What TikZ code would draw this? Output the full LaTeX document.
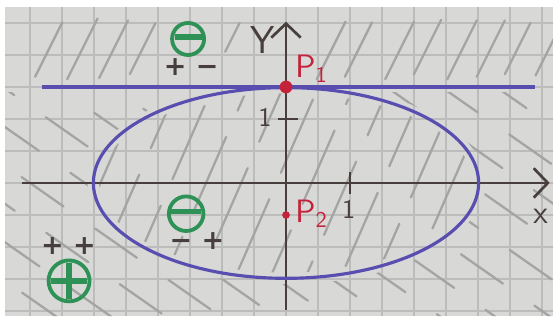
\documentclass[tikz,border=0pt]{standalone}
\usepackage{fontspec}
\usetikzlibrary{arrows.meta}
\newfontfamily\signfont{DejaVu Sans}

\definecolor{paper}{RGB}{216,216,215}
\definecolor{gridgray}{RGB}{188,188,188}
\definecolor{pencil}{RGB}{164,164,162}
\definecolor{inkblue}{RGB}{88,78,176}
\definecolor{inkdark}{RGB}{72,62,62}
\definecolor{inkred}{RGB}{196,34,58}
\definecolor{inkgreen}{RGB}{46,146,86}

\begin{document}
\begin{tikzpicture}[
  font=\sffamily,
  gridline/.style={gridgray, line width=0.6pt},
  hatch/.style={pencil, line width=1pt, line cap=round},
  axis/.style={inkdark, line width=1.2pt, -{Straight Barb[length=2.2mm,width=4.6mm,line width=1.2pt]}},
  curve/.style={inkblue, line width=1.4pt},
  dot/.style={circle, fill=inkred, inner sep=0pt, minimum size=#1},
  ptlabel/.style={inkred, font=\sffamily\Large},
  axlabel/.style={inkdark, font=\sffamily\Large},
  signcirc/.style={circle, draw=inkgreen, line width=1.7pt, inner sep=0pt, minimum size=#1},
  signbar/.style={inkgreen, line width=2.6pt},
  signs/.style={inkdark, font=\signfont\bfseries\large}
]
  \useasboundingbox (-4.469,-2.156) rectangle (4.172,2.859);
  % sheet of squared paper
  \fill[white] (-4.469,-2.156) rectangle (4.172,2.859);
  \fill[paper] (-4.39,-2.08) rectangle (4.172,2.75);
  \draw[gridline] (-4.39,-2.08) grid[step=0.5] (4.172,2.75);

  % hatching above the tangent
  \foreach \x/\y/\l in {-3.92/1.66/0.85, -3.42/1.62/0.95, -2.92/1.64/0.9, -2.44/1.7/0.8,
                        -0.95/2.05/0.45, 0.48/1.62/0.9, 0.92/1.66/0.85, 1.55/1.62/0.9,
                        2.0/1.7/0.85, 2.52/1.62/0.92, 2.98/1.66/0.88, 3.42/1.7/0.8, 3.9/1.68/0.75}
    \draw[hatch] (\x,\y) -- ++(0.5*\l,\l);

  % hatching inside the ellipse
  \begin{scope}
    \clip (0,0) ellipse [x radius=2.92, y radius=1.4];
    \foreach \x [count=\k] in {-2.9,-2.35,...,3.2}
      \draw[hatch, dash pattern=on 1.25cm off 0.45cm, dash phase=\k*0.53cm]
        (\x-0.7,-1.6) -- (\x+0.7,1.6);
  \end{scope}

  % hatching outside the ellipse
  \begin{scope}[even odd rule]
    \clip (-4.39,-2.08) rectangle (4.172,1.42)
      (0,0) ellipse [x radius=3.1, y radius=1.58];
    \foreach \c [count=\k] in {-5.2,-4.6,...,4.6}
      \draw[hatch, dash pattern=on 0.8cm off 0.6cm, dash phase=\k*0.47cm]
        (-4.5,\c+3.15) -- (4.3,\c-3.01);
  \end{scope}

  % axes
  \coordinate (xstart) at (-4.12,0);
  \coordinate (xend)   at (4.12,0);
  \coordinate (ystart) at (0,-1.98);
  \coordinate (yend)   at (0,2.52);
  \draw[axis] (xstart) -- (xend);
  \draw[axis] (ystart) -- (yend);
  \coordinate (xone) at (1,0);
  \coordinate (yone) at (0,1);
  \draw[inkdark, line width=1.2pt] (xone) ++(0,0.17) -- ++(0,-0.34);
  \draw[inkdark, line width=1.2pt] (yone) ++(-0.13,0) -- ++(0.31,0);
  \node[axlabel] (xname) at (3.98,-0.52) {x};
  \node[axlabel, font=\sffamily\LARGE] (yname) at (-0.37,2.23) {Y};
  \node[axlabel, font=\sffamily\large] (xonelab) at (0.98,-0.41) {1};
  \node[axlabel, font=\sffamily\large] (yonelab) at (-0.33,1.02) {1};

  % tangent and ellipse
  \coordinate (tanL) at (-3.81,1.5);
  \coordinate (tanR) at (3.89,1.5);
  \draw[curve] (tanL) -- (tanR);
  \draw[curve] (0,0) ellipse [x radius=3.01, y radius=1.49];

  % points
  \node[dot=0.2cm]  (p1) at (0,1.5) {};
  \node[dot=0.12cm] (p2) at (0,-0.5) {};
  \node[ptlabel] (p1lab) at (0.4,1.78) {P\textsubscript{1}};
  \node[ptlabel] (p2lab) at (0.4,-0.48) {P\textsubscript{2}};

  % signs
  \node[signcirc=0.5cm] (sgnTop) at (-1.53,2.25) {};
  \draw[signbar] ([xshift=2pt,yshift=1pt]sgnTop.west) -- ([xshift=-2pt,yshift=1pt]sgnTop.east);
  \node[signs] (sgnTopLab) at (-1.48,1.81) {+ −};
  \node[signcirc=0.54cm] (sgnIn) at (-1.56,-0.48) {};
  \draw[signbar] ([xshift=2pt,yshift=1pt]sgnIn.west) -- ([xshift=-2pt,yshift=1pt]sgnIn.east);
  \node[signs] (sgnInLab) at (-1.39,-0.9) {− +};
  \node[signcirc=0.64cm] (sgnOut) at (-3.39,-1.53) {};
  \draw[signbar] ([xshift=2pt]sgnOut.west) -- ([xshift=-2pt]sgnOut.east);
  \draw[signbar] ([yshift=-2pt]sgnOut.north) -- ([yshift=2pt]sgnOut.south);
  \node[signs] (sgnOutLab) at (-3.4,-0.98) {+ +};
\end{tikzpicture}
\end{document}
